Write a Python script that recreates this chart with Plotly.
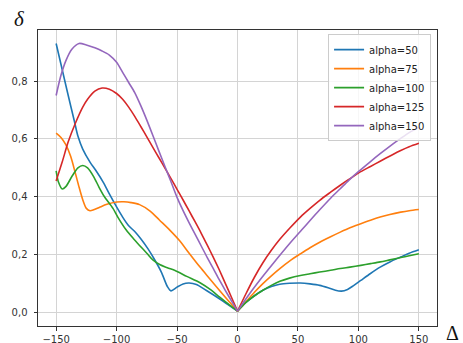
import plotly.graph_objects as go

# ---------------- data ----------------
series_names = ["alpha=50", "alpha=75", "alpha=100", "alpha=125", "alpha=150"]
series_colors = ["#1f77b4", "#ff7f0e", "#2ca02c", "#d62728", "#9467bd"]

a50_x = [-150, -145, -140, -135, -132, -128, -122, -117, -111, -106, -100, -95, -90, -85, -80, -74, -69,
         -63, -58, -55, -50, -45, -40, -34, -26, -14, -7, 0,
         7, 14, 21, 28, 35, 43, 52, 60, 68, 76, 81, 86, 91, 96, 102, 110, 118, 126, 135, 142, 150]
a50_y = [0.93, 0.84, 0.75, 0.663, 0.61, 0.565, 0.52, 0.49, 0.45, 0.41, 0.365, 0.33, 0.30, 0.28, 0.255, 0.22, 0.186,
         0.14, 0.09, 0.075, 0.088, 0.099, 0.102, 0.097, 0.077, 0.045, 0.025, 0.005,
         0.035, 0.058, 0.077, 0.09, 0.098, 0.101, 0.102, 0.099, 0.094, 0.084, 0.077, 0.074, 0.08, 0.093, 0.111,
         0.135, 0.157, 0.175, 0.192, 0.205, 0.217]

a75_x = [-150, -146, -142, -138, -134, -131, -128, -125, -122, -119, -114, -108, -100, -94, -88, -81, -72,
         -64.6, -56, -48, -40, -31, -23, -15, -7, 0,
         7, 14, 21, 28, 35, 43, 52, 60, 68, 77, 85, 93, 102, 110, 118, 126, 135, 142, 150]
a75_y = [0.62, 0.605, 0.58, 0.54, 0.48, 0.433, 0.39, 0.36, 0.352, 0.355, 0.364, 0.374, 0.382, 0.383, 0.38, 0.373, 0.35,
         0.32, 0.285, 0.249, 0.205, 0.157, 0.117, 0.077, 0.038, 0.005,
         0.037, 0.07, 0.1, 0.127, 0.152, 0.178, 0.203, 0.224, 0.243, 0.262, 0.278, 0.293, 0.307, 0.319, 0.33,
         0.339, 0.347, 0.352, 0.356]

a100_x = [-150, -148, -145, -142, -137, -132, -128, -124, -119, -114.5, -110, -103, -99, -92, -86, -81, -75, -70,
          -64, -58, -50, -42, -31, -22, -15, -7, 0,
          7, 14, 21, 28, 35, 43, 52, 60, 68, 77, 85, 93, 102, 110, 118, 126, 135, 142, 150]
a100_y = [0.49, 0.45, 0.427, 0.435, 0.47, 0.5, 0.508, 0.5, 0.47, 0.433, 0.40, 0.36, 0.33, 0.285, 0.255, 0.232,
          0.205, 0.182, 0.165, 0.155, 0.142, 0.125, 0.103, 0.078, 0.054, 0.027, 0.005,
          0.035, 0.058, 0.077, 0.094, 0.108, 0.119, 0.128, 0.134, 0.14, 0.146, 0.152, 0.157, 0.163, 0.169, 0.175,
          0.182, 0.19, 0.196, 0.203]

a125_x = [-150, -145, -140, -134, -128, -124, -118, -112, -106, -100, -95, -90, -85, -80, -75, -70, -65, -60,
          -55, -50, -45, -40, -35, -30, -25, -20, -15, -10, -5, 0,
          7, 14, 21, 28, 35, 43.5, 52, 60, 68, 77, 85, 92, 100, 110, 118, 127, 135, 142, 150]
a125_y = [0.455, 0.52, 0.59, 0.655, 0.71, 0.737, 0.765, 0.776, 0.772, 0.757, 0.737, 0.71, 0.678, 0.643, 0.607,
          0.571, 0.535, 0.499, 0.463, 0.426, 0.389, 0.351, 0.313, 0.274, 0.233, 0.191, 0.147, 0.1, 0.053, 0.005,
          0.065, 0.122, 0.172, 0.215, 0.253, 0.293, 0.33, 0.36, 0.388, 0.416, 0.44, 0.46, 0.482, 0.505, 0.523,
          0.543, 0.56, 0.573, 0.585]

a150_x = [-150, -146, -142, -137, -131, -125, -118, -112, -106, -100, -95, -90, -85, -80, -75, -70, -65, -60,
          -55, -50, -45, -40, -35, -30, -25, -20, -15, -10, -5, 0,
          10, 20, 30, 43.5, 53, 60, 68, 77, 85, 92, 100, 110, 118, 127, 135, 142, 150]
a150_y = [0.75, 0.82, 0.87, 0.91, 0.93, 0.925, 0.915, 0.904, 0.89, 0.865, 0.83, 0.795, 0.76, 0.715, 0.665, 0.612,
          0.558, 0.505, 0.452, 0.398, 0.352, 0.31, 0.27, 0.23, 0.19, 0.152, 0.113, 0.076, 0.04, 0.005,
          0.065, 0.12, 0.172, 0.24, 0.285, 0.318, 0.355, 0.395, 0.428, 0.457, 0.487, 0.522, 0.549, 0.578, 0.602,
          0.622, 0.64]

x_tickvals = [-150, -100, -50, 0, 50, 100, 150]
x_ticktext = ["\u2212150", "\u2212100", "\u221250", "0", "50", "100", "150"]
y_tickvals = [0.0, 0.2, 0.4, 0.6, 0.8]
y_ticktext = ["0,0", "0,2", "0,4", "0,6", "0,8"]

all_x = [a50_x, a75_x, a100_x, a125_x, a150_x]
all_y = [a50_y, a75_y, a100_y, a125_y, a150_y]


def split_at_zero(xs, ys):
    """Break the line at the cusp x=0 so the V stays sharp with spline smoothing."""
    i = xs.index(0)
    return xs[:i + 1] + [None] + xs[i:], ys[:i + 1] + [None] + ys[i:]


fig = go.Figure()
for name, color, xs, ys in zip(series_names, series_colors, all_x, all_y):
    sx, sy = split_at_zero(xs, ys)
    fig.add_trace(go.Scatter(
        x=sx, y=sy, mode="lines", name=name, connectgaps=False,
        line=dict(color=color, width=1.6, shape="spline", smoothing=0.8),
    ))

axis_common = dict(
    showgrid=True, gridcolor="#d4d4d4", gridwidth=1,
    showline=True, linecolor="#333333", linewidth=1, mirror=True,
    ticks="outside", ticklen=3.5, tickcolor="#333333", tickwidth=1,
    zeroline=False, automargin=False,
    tickfont=dict(family="DejaVu Sans", size=10, color="#333333"),
)

fig.update_layout(
    width=463, height=343,
    margin=dict(l=38, r=26, t=30, b=17),
    paper_bgcolor="white", plot_bgcolor="white",
    xaxis=dict(range=[-165, 165], tickmode="array", tickvals=x_tickvals, ticktext=x_ticktext, **axis_common),
    yaxis=dict(range=[-0.0465, 0.9765], tickmode="array", tickvals=y_tickvals, ticktext=y_ticktext,
               ticklabelstandoff=4, **axis_common),
    legend=dict(
        x=0.727, y=0.986, xanchor="left", yanchor="top",
        bgcolor="rgba(255,255,255,0.8)", bordercolor="#cccccc", borderwidth=1,
        font=dict(family="DejaVu Sans", size=10, color="#222222"),
        tracegroupgap=0, itemwidth=30,
    ),
    showlegend=True,
    annotations=[
        dict(text="<i>\u03b4</i>", xref="paper", yref="paper", x=-0.0476, y=1.037,
             xanchor="center", yanchor="middle", showarrow=False,
             font=dict(family="Liberation Serif", size=21, color="#111111")),
        dict(text="\u0394", xref="paper", yref="paper", x=1.04, y=-0.024,
             xanchor="center", yanchor="middle", showarrow=False,
             font=dict(family="Liberation Serif", size=20, color="#111111")),
    ],
)

fig.write_html("out.html")
